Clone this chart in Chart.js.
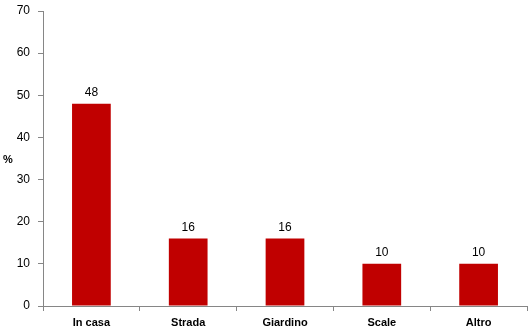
<!DOCTYPE html>
<html>
<head>
<meta charset="utf-8">
<script src="https://cdn.jsdelivr.net/npm/chart.js@4/dist/chart.umd.min.js"></script>
<style>
  html, body { margin: 0; padding: 0; background: #fff; }
  #wrap { width: 532px; height: 333px; }
</style>
</head>
<body>
<div id="wrap"><canvas id="barChart" width="532" height="333"></canvas></div>
<script>
const categories = ['In casa', 'Strada', 'Giardino', 'Scale', 'Altro']
const values = [48, 16, 16, 10, 10]
const yAxisLabel = '%'

const barLabels = {
  id: 'barLabels',
  afterDatasetsDraw(chart) {
    const { ctx } = chart
    const meta = chart.getDatasetMeta(0)
    ctx.save()
    ctx.font = '12px "Liberation Sans", Arial, sans-serif'
    ctx.fillStyle = '#000'
    ctx.textAlign = 'center'
    ctx.textBaseline = 'bottom'
    meta.data.forEach((bar, i) => {
      ctx.fillText(String(values[i]), bar.x, bar.y - 5)
    })
    // axis title, drawn horizontally
    ctx.font = 'bold 11px "Liberation Sans", Arial, sans-serif'
    ctx.textAlign = 'left'
    ctx.textBaseline = 'middle'
    ctx.fillText(yAxisLabel, 3, 160)
    ctx.restore()
  }
}

const ctx = document.getElementById('barChart').getContext('2d')
new Chart(ctx, {
  type: 'bar',
  data: {
    labels: categories,
    datasets: [
      {
        data: values,
        backgroundColor: '#C00000',
        barPercentage: 0.4,
        categoryPercentage: 1.0
      }
    ]
  },
  options: {
    responsive: false,
    animation: false,
    layout: { padding: { top: 11, right: 5, left: 0, bottom: 0 } },
    plugins: {
      legend: { display: false },
      tooltip: { enabled: false }
    },
    scales: {
      x: {
        afterFit(axis) {
          axis.height = 27
          axis.paddingLeft = 0
          axis.paddingRight = 0
        },
        grid: { display: true, drawOnChartArea: false, drawTicks: true, tickLength: 5, color: '#868686', offset: true },
        border: { color: '#868686' },
        ticks: {
          color: '#000',
          padding: 5,
          font: { family: '"Liberation Sans", Arial, sans-serif', size: 11, weight: 'bold' }
        }
      },
      y: {
        min: 0,
        max: 70,
        afterFit(axis) {
          axis.width = 43
          axis.paddingTop = 0
          axis.paddingBottom = 0
        },
        grid: { display: true, drawOnChartArea: false, drawTicks: true, tickLength: 5, color: '#868686' },
        border: { color: '#868686' },
        ticks: {
          stepSize: 10,
          color: '#000',
          padding: 8,
          font: { family: '"Liberation Sans", Arial, sans-serif', size: 12 }
        }
      }
    }
  },
  plugins: [barLabels]
})
</script>
</body>
</html>
